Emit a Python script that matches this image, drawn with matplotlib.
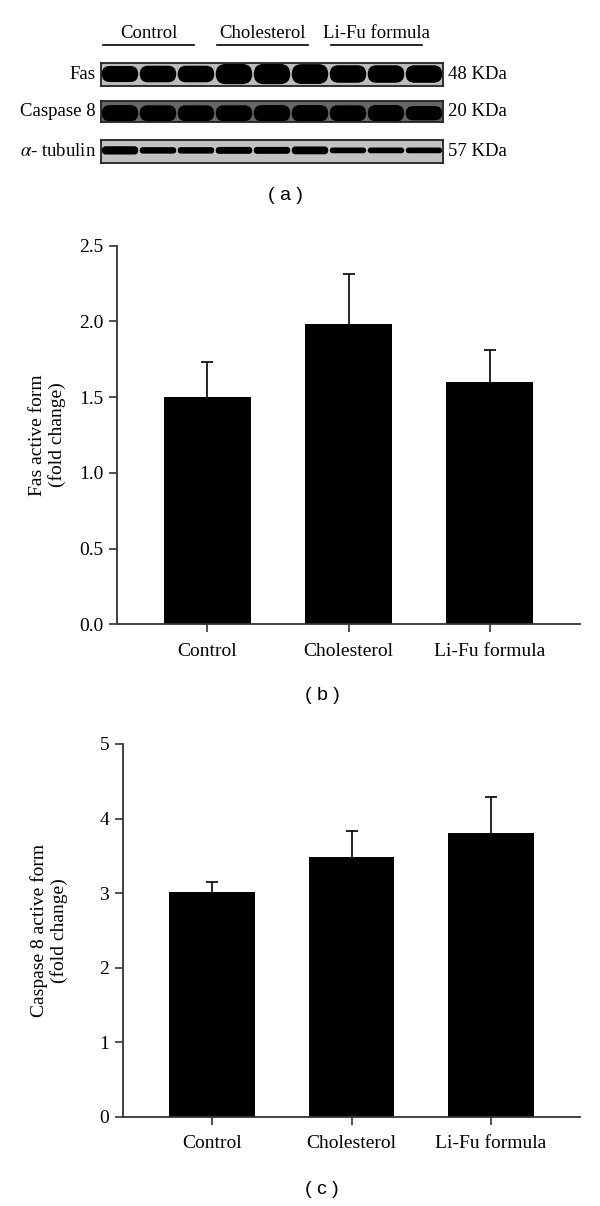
import numpy as np
import matplotlib.pyplot as plt
from matplotlib.patches import FancyBboxPatch

groups = ["Control", "Cholesterol", "Li-Fu formula"]

# blot rows (band thickness as fraction of the strip, per lane)
blot_rows = ["Fas", "Caspase 8", r"$\alpha$- tubulin"]
blot_kda = ["48 KDa", "20 KDa", "57 KDa"]
fas_band = [0.70, 0.72, 0.72, 0.88, 0.88, 0.86, 0.76, 0.76, 0.76]
casp_band = [0.78, 0.76, 0.76, 0.76, 0.78, 0.78, 0.76, 0.78, 0.68]
tub_band = [0.36, 0.28, 0.28, 0.30, 0.30, 0.34, 0.25, 0.25, 0.25]

# bar panels
fas_vals = [1.50, 1.98, 1.60]
fas_err = [0.23, 0.33, 0.21]
casp_vals = [3.01, 3.49, 3.81]
casp_err = [0.14, 0.34, 0.48]

serif = ["Liberation Serif", "DejaVu Serif"]
sans = ["Liberation Sans", "DejaVu Sans"]
plt.rcParams['font.family'] = serif
plt.rcParams['mathtext.fontset'] = 'stix'

fig = plt.figure(figsize=(6, 12.06), dpi=100)

# ---- (a) western blot strips ----
strip_pos = [0.9287, 0.8988, 0.8648]
strip_h = [0.0191, 0.0174, 0.0191]
strip_bg = ['#bcbcbc', '#666666', '#c2c2c2']
band_y = [0.52, 0.42, 0.55]
bands = [fas_band, casp_band, tub_band]
blot_axes = []
for k in range(3):
    bax = fig.add_axes([0.1683, strip_pos[k], 0.57, strip_h[k]])
    bax.set_xlim(-0.5, 8.5)
    bax.set_ylim(0, 1)
    bax.set_facecolor(strip_bg[k])
    # y units per x unit on screen, so the band ends come out round
    asp = (0.57 * 6 / 9) / (strip_h[k] * 12.06)
    for i, h in enumerate(bands[k]):
        r = h / 2 / asp
        bax.add_patch(FancyBboxPatch((i - 0.48, band_y[k] - h / 2), 0.96, h,
                                     boxstyle="round,pad=0,rounding_size=%g" % r,
                                     mutation_aspect=asp, color='black', lw=0))
    bax.set_xticks([])
    bax.set_yticks([])
    for s in bax.spines.values():
        s.set_linewidth(1.3)
        s.set_color('#222222')
    bax.text(-0.015, 0.5, blot_rows[k], transform=bax.transAxes,
             ha='right', va='center', fontsize=13.5)
    bax.text(1.015, 0.5, blot_kda[k], transform=bax.transAxes,
             ha='left', va='center', fontsize=13.5)
    blot_axes.append(bax)

top = blot_axes[0]
for g, name in enumerate(groups):
    x0 = g * 3
    top.plot([x0 - 0.45, x0 + 1.95], [1.78, 1.78], color='black', lw=1.2,
             clip_on=False)
    top.text(x0 + 0.75, 2.3, name, ha='center', va='center', fontsize=13.5)

fig.text(0.475, 1 - 195 / 1206, "( a )", ha='center', va='center',
         fontsize=14, family=sans)

# ---- (b) and (c) bar charts ----
def bar_panel(rect, vals, errs, ylim, yticks, fmt, ylabel, lab_x):
    ax = fig.add_axes(rect)
    x = np.arange(len(groups))
    tops = np.array(vals) + np.array(errs)
    ax.vlines(x, vals, tops, color='black', lw=1.2, zorder=1)
    ax.plot(x, tops, ls='none', marker='_', ms=9, mew=1.2, color='black')
    ax.bar(x, vals, width=0.615, color='black', zorder=2)
    ax.set_xlim(-0.64, 2.64)
    ax.set_ylim(*ylim)
    ax.set_yticks(yticks)
    ax.set_yticklabels([fmt.format(t) for t in yticks])
    ax.set_xticks(x)
    ax.set_xticklabels(groups)
    for s in ['top', 'right']:
        ax.spines[s].set_visible(False)
    for s in ['left', 'bottom']:
        ax.spines[s].set_linewidth(1.3)
        ax.spines[s].set_color('#333333')
    ax.tick_params(axis='y', length=6, width=1.2, color='#333333', pad=4,
                   labelsize=14)
    ax.tick_params(axis='x', length=6, width=1.2, color='#333333', pad=7,
                   labelsize=14)
    ax.set_ylabel(ylabel, fontsize=14, linespacing=1.15)
    ax.yaxis.set_label_coords(lab_x, 0.5)
    return ax

bar_panel([0.195, 0.4822, 0.772, 0.3141], fas_vals, fas_err, (0, 2.5),
          [0.0, 0.5, 1.0, 1.5, 2.0, 2.5], "{:.1f}",
          "Fas active form\n(fold change)", -0.11)
fig.text(0.537, 1 - 695 / 1206, "( b )", ha='center', va='center',
         fontsize=14, family=sans)

bar_panel([0.205, 0.0741, 0.762, 0.309], casp_vals, casp_err, (0, 5),
          [0, 1, 2, 3, 4, 5], "{:d}",
          "Caspase 8 active form\n(fold change)", -0.12)
fig.text(0.537, 1 - 1190 / 1206, "( c )", ha='center', va='center',
         fontsize=14, family=sans)

fig.savefig("out.png", dpi=100)
